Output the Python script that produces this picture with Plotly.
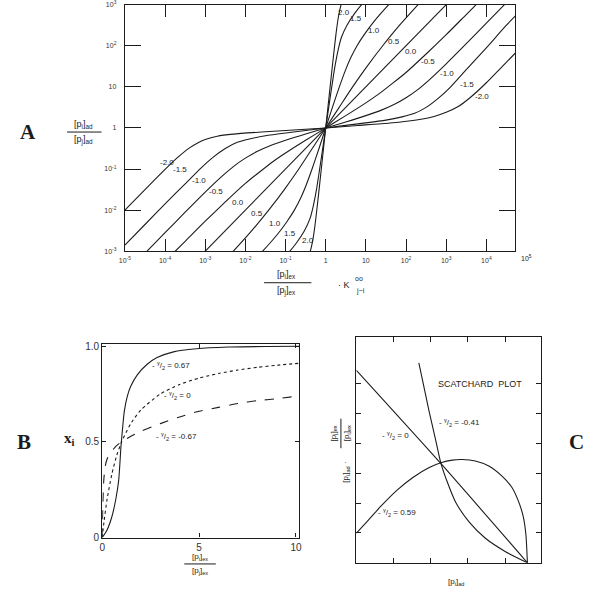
import plotly.graph_objects as go

W, H = 602, 599
INK = "#1c1c1c"
SANS = "Liberation Sans, Arial, sans-serif"
SERIF = "Liberation Serif, Times New Roman, serif"

# ---------------- panel A (log10 exponents) ----------------
A_X_TICKS = [1e-5, 1e-4, 1e-3, 1e-2, 1e-1, 1, 10, 1e2, 1e3, 1e4]
A_X_TEXT = ["10<sup>-5</sup>", "10<sup>-4</sup>", "10<sup>-3</sup>", "10<sup>-2</sup>",
            "10<sup>-1</sup>", "1", "10", "10<sup>2</sup>", "10<sup>3</sup>", "10<sup>4</sup>"]
A_Y_TICKS = [1e-3, 1e-2, 1e-1, 1, 10, 1e2, 1e3]
A_Y_TEXT = ["10<sup>-3</sup>", "10<sup>-2</sup>", "10<sup>-1</sup>", "1", "10",
            "10<sup>2</sup>", "10<sup>3</sup>"]

A_LX_M20 = [-5, -4.5, -4.0, -3.7, -3.4, -3.2, -3.0, -2.7, -2.3, -1.6, -0.8, 0,
            0.8, 1.6, 2.3, 2.7, 3.0, 3.3, 3.6, 4.0, 4.4, 5.0]
A_LY_M20 = [-2.0, -1.5, -1.01, -0.73, -0.49, -0.37, -0.28, -0.20, -0.15, -0.10, -0.05, 0,
            0.06, 0.12, 0.20, 0.28, 0.38, 0.52, 0.74, 1.10, 1.50, 2.10]

A_LX_M15 = [-5, -4.5, -4.0, -3.5, -3.1, -2.8, -2.5, -2.2, -1.9, -1.5, -0.8, 0,
            0.8, 1.5, 1.9, 2.2, 2.5, 2.8, 3.1, 3.5, 4.0, 4.5, 5.0]
A_LY_M15 = [-2.85, -2.35, -1.85, -1.36, -0.97, -0.71, -0.50, -0.35, -0.27, -0.19, -0.10, 0,
            0.10, 0.19, 0.27, 0.35, 0.50, 0.72, 0.99, 1.42, 1.95, 2.5, 3.0]

A_LX_M10 = [-5, -4.0, -3.5, -3.0, -2.6, -2.3, -2.0, -1.7, -1.4, -1.0, -0.5, 0,
            0.5, 1.0, 1.4, 1.7, 2.0, 2.3, 2.6, 3.0, 3.5, 4.0, 5.0]
A_LY_M10 = [-3.55, -2.55, -2.05, -1.56, -1.19, -0.94, -0.735, -0.57, -0.44, -0.30, -0.145, 0,
            0.145, 0.30, 0.44, 0.57, 0.735, 0.94, 1.19, 1.56, 2.05, 2.55, 3.55]

A_LX_M05 = [-5, -4.0, -3.5, -3.0, -2.5, -2.0, -1.67, -1.3, -1.0, -0.5, 0,
            0.5, 1.0, 1.3, 1.67, 2.0, 2.5, 3.0, 3.5, 4.0, 5.0]
A_LY_M05 = [-4.25, -3.25, -2.76, -2.27, -1.80, -1.35, -1.09, -0.81, -0.61, -0.30, 0,
            0.30, 0.61, 0.81, 1.09, 1.35, 1.80, 2.27, 2.76, 3.25, 4.25]

A_LX_P00 = [-5, 0, 5]
A_LY_P00 = [-5, 0, 5]

A_LX_P05 = [-4.25, -3.26, -2.77, -2.30, -1.84, -1.42, -1.03, -0.67, -0.335, 0,
            0.335, 0.67, 1.03, 1.42, 1.84, 2.30, 2.77, 3.26, 4.25]
A_LY_P05 = [-5, -4, -3.5, -3.0, -2.5, -2.0, -1.5, -1.0, -0.5, 0,
            0.5, 1.0, 1.5, 2.0, 2.5, 3.0, 3.5, 4, 5]

A_LX_P10 = [-3.55, -3.05, -2.55, -2.06, -1.57, -1.21, -0.98, -0.78, -0.62, -0.49, -0.34, -0.167, 0,
            0.167, 0.34, 0.49, 0.62, 0.78, 0.98, 1.21, 1.57, 2.06, 2.55, 3.05, 3.55]
A_LY_P10 = [-5, -4.5, -4, -3.5, -3.0, -2.6, -2.3, -2.0, -1.7, -1.4, -1.0, -0.5, 0,
            0.5, 1.0, 1.4, 1.7, 2.0, 2.3, 2.6, 3.0, 3.5, 4, 4.5, 5]

A_LX_P15 = [-2.85, -2.35, -1.85, -1.36, -0.98, -0.73, -0.53, -0.39, -0.31, -0.23, -0.12, 0,
            0.12, 0.23, 0.31, 0.39, 0.53, 0.73, 0.98, 1.36, 1.85, 2.35, 2.85]
A_LY_P15 = [-5, -4.5, -4, -3.5, -3.1, -2.8, -2.5, -2.2, -1.9, -1.5, -0.8, 0,
            0.8, 1.5, 1.9, 2.2, 2.5, 2.8, 3.1, 3.5, 4, 4.5, 5]

A_LX_P20 = [-2.0, -1.5, -1.02, -0.685, -0.50, -0.384, -0.316, -0.258, -0.176, -0.088, 0,
            0.088, 0.176, 0.258, 0.316, 0.384, 0.50, 0.685, 1.02, 1.5, 2.0]
A_LY_P20 = [-5, -4.5, -4, -3.6, -3.3, -3.0, -2.7, -2.3, -1.6, -0.8, 0,
            0.8, 1.6, 2.3, 2.7, 3.0, 3.3, 3.6, 4, 4.5, 5]

# curve labels: text, (log x, log y) of the lower-left and upper-right label
A_LABELS = ["-2.0", "-1.5", "-1.0", "-0.5", "0.0", "0.5", "1.0", "1.5", "2.0"]
A_LABEL_LOW = [(-3.96, -0.85), (-3.64, -1.0), (-3.15, -1.28), (-2.73, -1.55), (-2.19, -1.81),
               (-1.72, -2.08), (-1.26, -2.32), (-0.89, -2.56), (-0.45, -2.73)]
A_LABEL_HIGH = [(3.90, 0.76), (3.51, 1.05), (3.02, 1.32), (2.55, 1.61), (2.13, 1.85),
                (1.71, 2.11), (1.20, 2.38), (0.76, 2.67), (0.46, 2.81)]

# ---------------- panel B ----------------
B_X_SOLID = [0, 0.25, 0.5, 0.7, 0.85, 0.97, 1.05, 1.14, 1.3, 1.47, 1.81, 2.32, 2.83, 3.68,
             4.86, 6.5, 8.5, 10.15]
B_Y_SOLID = [0, 0.04, 0.11, 0.2, 0.3, 0.48, 0.57, 0.66, 0.74, 0.79, 0.85, 0.905, 0.94, 0.97,
             0.986, 0.995, 0.998, 0.999]
B_X_DOT = [0, 0.1, 0.25, 0.5, 0.75, 1, 1.5, 2, 3, 4, 5, 6, 7, 8, 9, 10.15]
B_Y_DOT = [0, 0.09, 0.2, 0.333, 0.43, 0.5, 0.6, 0.667, 0.75, 0.8, 0.833, 0.857, 0.875,
           0.889, 0.9, 0.91]
B_X_DASH = [0, 0.03, 0.08, 0.15, 0.25, 0.4, 0.6, 0.8, 1.0, 1.5, 2, 3, 4, 5, 6, 7, 8, 9, 10.15]
B_Y_DASH = [0, 0.17, 0.3, 0.37, 0.41, 0.44, 0.465, 0.485, 0.5, 0.53, 0.555, 0.595, 0.63,
            0.66, 0.68, 0.70, 0.715, 0.725, 0.74]

# ---------------- panel C (arbitrary units, tick spacing = 1) ----------------
C_X_ZERO = [0, 2.27, 4.6]
C_Y_ZERO = [6.45, 3.33, 0.0]
C_X_NEG = [1.68, 1.96, 2.14, 2.27, 2.45, 2.67, 3.03, 3.47, 4.0, 4.6]
C_Y_NEG = [6.70, 5.05, 4.07, 3.35, 2.69, 2.03, 1.37, 0.82, 0.38, 0.0]
C_X_POS = [0, 0.28, 0.64, 1.08, 1.52, 1.96, 2.27, 2.58, 2.85, 3.2, 3.56, 3.91, 4.18, 4.35,
           4.49, 4.56, 4.6]
C_Y_POS = [0.99, 1.37, 1.87, 2.42, 2.86, 3.19, 3.35, 3.44, 3.46, 3.41, 3.24, 2.91, 2.53,
           2.09, 1.54, 0.93, 0.0]


def px(x, y):
    return x / W, 1 - y / H


def frame(ticklen, size):
    return dict(showline=True, linecolor=INK, linewidth=1.2, mirror="ticks",
                ticks="inside", ticklen=ticklen, tickwidth=1, tickcolor=INK,
                showgrid=False, zeroline=False,
                tickfont=dict(family=SANS, size=size, color="#333"))


fig = go.Figure()

a_curves = [(A_LX_M20, A_LY_M20), (A_LX_M15, A_LY_M15), (A_LX_M10, A_LY_M10),
            (A_LX_M05, A_LY_M05), (A_LX_P00, A_LY_P00), (A_LX_P05, A_LY_P05),
            (A_LX_P10, A_LY_P10), (A_LX_P15, A_LY_P15), (A_LX_P20, A_LY_P20)]
for name, (lx, ly) in zip(A_LABELS, a_curves):
    fig.add_trace(go.Scatter(
        x=[10 ** v for v in lx], y=[10 ** v for v in ly], name=name,
        mode="lines", line=dict(color=INK, width=1.1, shape="spline", smoothing=0.6),
        xaxis="x", yaxis="y", showlegend=False, hoverinfo="skip"))

for xs, ys, dash in [(B_X_SOLID, B_Y_SOLID, "solid"), (B_X_DOT, B_Y_DOT, "dot"),
                     (B_X_DASH, B_Y_DASH, "dash")]:
    fig.add_trace(go.Scatter(
        x=xs, y=ys, mode="lines",
        line=dict(color=INK, width=1.1, dash=dash, shape="spline", smoothing=0.6),
        xaxis="x2", yaxis="y2", showlegend=False, hoverinfo="skip"))

for xs, ys in [(C_X_ZERO, C_Y_ZERO), (C_X_NEG, C_Y_NEG), (C_X_POS, C_Y_POS)]:
    fig.add_trace(go.Scatter(
        x=xs, y=ys, mode="lines",
        line=dict(color=INK, width=1.1, shape="spline", smoothing=0.6),
        xaxis="x3", yaxis="y3", showlegend=False, hoverinfo="skip"))

ann = []
for text, lo, hi in zip(A_LABELS, A_LABEL_LOW, A_LABEL_HIGH):
    for lx, ly in (lo, hi):
        ann.append(dict(x=lx, y=ly, xref="x", yref="y", text=text, showarrow=False,
                        xanchor="center", yanchor="middle",
                        font=dict(family=SANS, size=8, color=INK)))


def note(x, y, text, size=9, family=SANS, **kw):
    fx, fy = px(x, y)
    ann.append(dict(x=fx, y=fy, xref="paper", yref="paper", text=text, showarrow=False,
                    xanchor="center", yanchor="middle",
                    font=dict(family=family, size=size, color=INK), **kw))


note(528, 259, "10<sup>5</sup>", size=7)
# panel letters
note(22, 131, "<b>A</b>", size=21, family=SERIF)
note(18, 446, "<b>B</b>", size=21, family=SERIF)
note(579, 446, "<b>C</b>", size=21, family=SERIF)
# panel A axis titles
note(79, 123, "[p<sub>i</sub>]<sub>ad</sub>", size=9)
note(79, 139, "[p<sub>j</sub>]<sub>ad</sub>", size=9)
note(285, 276, "[p<sub>i</sub>]<sub>ex</sub>", size=9)
note(285, 292, "[p<sub>j</sub>]<sub>ex</sub>", size=9)
note(343, 286, "· K", size=9)
note(358, 280, "oo", size=7)
note(360, 292, "j−i", size=7)
# panel B
note(64, 443, "<b>x<sub>i</sub></b>", size=15, family=SERIF)
note(197, 562, "[p<sub>i</sub>]<sub>ex</sub>", size=8)
note(197, 577, "[p<sub>j</sub>]<sub>ex</sub>", size=8)
note(168, 368, "- <sup>γ</sup>/<sub>2</sub> = 0.67", size=8)
note(174, 398, "- <sup>γ</sup>/<sub>2</sub> = 0", size=8)
note(173, 440, "- <sup>γ</sup>/<sub>2</sub> = -0.67", size=8)
# panel C
note(481, 387, "SCATCHARD  PLOT", size=9)
note(460, 426, "- <sup>γ</sup>/<sub>2</sub> = -0.41", size=8)
note(395, 439, "- <sup>γ</sup>/<sub>2</sub> = 0", size=8)
note(397, 517, "- <sup>γ</sup>/<sub>2</sub> = 0.59", size=8)
note(457, 588, "[p<sub>i</sub>]<sub>ad</sub>", size=8)
note(333, 437, "[p<sub>j</sub>]<sub>ex</sub>", size=8, textangle=-90)
note(347, 437, "[p<sub>i</sub>]<sub>ex</sub>", size=8, textangle=-90)
note(345, 476, "[p<sub>i</sub>]<sub>ad</sub> ·", size=8, textangle=-90)


def bar(x0, y0, x1, y1):
    a, b = px(x0, y0)
    c, d = px(x1, y1)
    return dict(type="line", xref="paper", yref="paper", x0=a, y0=b, x1=c, y1=d,
                line=dict(color=INK, width=1))


shapes = [bar(62, 131, 97, 131), bar(262, 284, 310, 284),
          bar(181, 569.5, 213, 569.5), bar(340, 422, 340, 452)]

fig.update_layout(
    width=W, height=H, autosize=False,
    margin=dict(l=0, r=0, t=0, b=0),
    paper_bgcolor="white", plot_bgcolor="white",
    showlegend=False,
    xaxis=dict(domain=[120.7 / W, 517 / W], anchor="y", type="log", range=[-5, 4.72],
               tickvals=A_X_TICKS, ticktext=A_X_TEXT, ticklabelstandoff=2, **frame(12, 7)),
    yaxis=dict(domain=[1 - 252 / H, 1 - 1.7 / H], anchor="x", type="log", range=[-3, 3],
               tickvals=A_Y_TICKS, ticktext=A_Y_TEXT, ticklabelstandoff=6, **frame(16, 7)),
    xaxis2=dict(domain=[97.7 / W, 297.3 / W], anchor="y2", range=[0, 10.15],
                tickvals=[0, 5, 10], ticktext=["0", "5", "10"], **frame(4, 10)),
    yaxis2=dict(domain=[1 - 542.7 / H, 1 - 346 / H], anchor="x2", range=[0, 1.012],
                tickvals=[0, 0.5, 1.0], ticktext=["0", "0.5", "1.0"], **frame(4, 10)),
    xaxis3=dict(domain=[355.7 / W, 543.3 / W], anchor="y3", range=[0, 4.97],
                tickvals=[1, 2, 3, 4], showticklabels=False, **frame(5, 8)),
    yaxis3=dict(domain=[1 - 568.3 / H, 1 - 339.3 / H], anchor="x3", range=[0, 7.56],
                tickvals=[1, 2, 3, 4, 5, 6], showticklabels=False, **frame(5, 8)),
    annotations=ann,
    shapes=shapes,
)

# page has a default 8px body margin; drop it so the figure sits at the window origin
fig.write_html("out.html", config={"displayModeBar": False},
               post_script="document.body.style.margin='0px';")
